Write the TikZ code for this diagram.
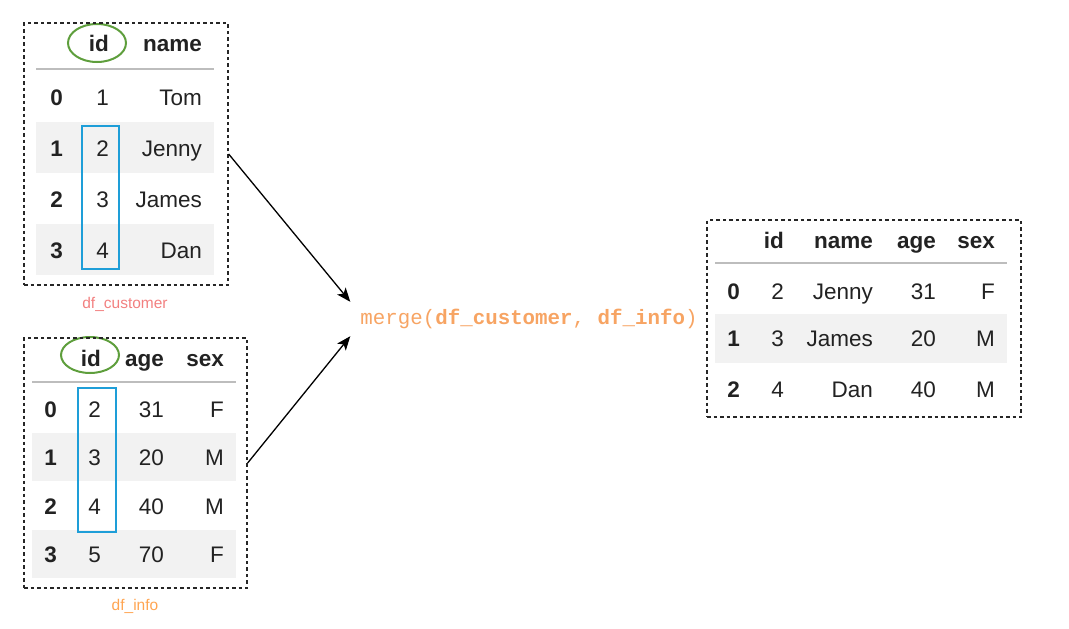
\documentclass[tikz,border=0pt]{standalone}
\usepackage{fontspec}
\setmainfont{Liberation Sans}
\setmonofont{Liberation Mono}
\usetikzlibrary{arrows.meta}
\definecolor{bandgray}{HTML}{F2F2F2}
\definecolor{rulegray}{HTML}{BDBDBD}
\definecolor{keyblue}{HTML}{1E9ED8}
\definecolor{ringgreen}{HTML}{5E9E3C}
\definecolor{custred}{HTML}{F28080}
\definecolor{infoorange}{HTML}{FFA552}
\definecolor{mergeorange}{HTML}{F7A463}
\definecolor{ink}{HTML}{222222}
\tikzset{
  dashbox/.style={draw=black!85, line width=1.3pt, dash pattern=on 3.5pt off 3pt, inner sep=0pt},
  cell/.style={anchor=east, inner sep=0pt, text height=16pt, text depth=0pt, text=ink, font=\fontsize{22.5}{26}\selectfont},
  idx/.style={cell, font=\fontsize{22.5}{26}\selectfont\bfseries},
  band/.style={fill=bandgray, draw=none},
  headrule/.style={draw=rulegray, line width=2pt},
  keybox/.style={draw=keyblue, line width=2pt},
  idring/.style={draw=ringgreen, line width=2pt},
  tag/.style={font=\fontsize{15.5}{18}\selectfont},
  joinarrow/.style={-{Stealth[length=14pt,width=11pt,inset=3.5pt]}, line width=1.3pt, black}
}
\begin{document}
\begin{tikzpicture}[x=1pt,y=-1pt]
  \useasboundingbox (0,0) rectangle (1069,629);

  % df_customer
  \fill[band] (36,122) rectangle (214,173);
  \fill[band] (36,224) rectangle (214,275);
  \draw[headrule] (36,69) -- (214,69);
  \node[idx] (t1h1) at (109,43) {id};
  \node[idx] (t1h2) at (202,43) {name};
  \node[idx] (t1r0a) at (63,97) {0};  \node[cell] (t1r0b) at (109,97) {1};  \node[cell] (t1r0c) at (202,97) {Tom};
  \node[idx] (t1r1a) at (63,148) {1}; \node[cell] (t1r1b) at (109,148) {2}; \node[cell] (t1r1c) at (202,148) {Jenny};
  \node[idx] (t1r2a) at (63,199) {2}; \node[cell] (t1r2b) at (109,199) {3}; \node[cell] (t1r2c) at (202,199) {James};
  \node[idx] (t1r3a) at (63,250) {3}; \node[cell] (t1r3b) at (109,250) {4}; \node[cell] (t1r3c) at (202,250) {Dan};
  \draw[keybox] (82,126) rectangle (119,269);
  \draw[idring] (97,43) ellipse [x radius=29, y radius=19];
  \node[dashbox, minimum width=204, minimum height=262] (customer) at (126,154) {};
  \node[tag, text=custred] (customerlbl) at (125,304) {df\_customer};

  % df_info
  \fill[band] (32,433) rectangle (236,481);
  \fill[band] (32,530) rectangle (236,578);
  \draw[headrule] (32,382) -- (236,382);
  \node[idx] (t2h1) at (101,358) {id};
  \node[idx] (t2h2) at (164,358) {age};
  \node[idx] (t2h3) at (224,358) {sex};
  \node[idx] (t2r0a) at (57,409) {0}; \node[cell] (t2r0b) at (101,409) {2}; \node[cell] (t2r0c) at (164,409) {31}; \node[cell] (t2r0d) at (224,409) {F};
  \node[idx] (t2r1a) at (57,457) {1}; \node[cell] (t2r1b) at (101,457) {3}; \node[cell] (t2r1c) at (164,457) {20}; \node[cell] (t2r1d) at (224,457) {M};
  \node[idx] (t2r2a) at (57,506) {2}; \node[cell] (t2r2b) at (101,506) {4}; \node[cell] (t2r2c) at (164,506) {40}; \node[cell] (t2r2d) at (224,506) {M};
  \node[idx] (t2r3a) at (57,554) {3}; \node[cell] (t2r3b) at (101,554) {5}; \node[cell] (t2r3c) at (164,554) {70}; \node[cell] (t2r3d) at (224,554) {F};
  \draw[keybox] (78,388) rectangle (116,532);
  \draw[idring] (90,355) ellipse [x radius=29, y radius=18];
  \node[dashbox, minimum width=223, minimum height=250] (info) at (135.5,463) {};
  \node[tag, text=infoorange] (infolbl) at (135,606) {df\_info};

  % merge
  \node[text=mergeorange, font=\fontsize{20.8}{24}\selectfont\ttfamily, inner xsep=10pt, inner ysep=0pt, minimum height=34pt] (merge) at (529,319)
    {merge(\textbf{df\_customer}, \textbf{df\_info})};
  \draw[joinarrow] (customer.east) -- (merge.north west);
  \draw[joinarrow] (info.east) -- (merge.south west);

  % result
  \fill[band] (715,314) rectangle (1007,363);
  \draw[headrule] (715,263) -- (1007,263);
  \node[idx] (t3h1) at (784,240) {id};
  \node[idx] (t3h2) at (873,240) {name};
  \node[idx] (t3h3) at (936,240) {age};
  \node[idx] (t3h4) at (995,240) {sex};
  \node[idx] (t3r0a) at (740,291) {0}; \node[cell] (t3r0b) at (784,291) {2}; \node[cell] (t3r0c) at (873,291) {Jenny}; \node[cell] (t3r0d) at (936,291) {31}; \node[cell] (t3r0e) at (995,291) {F};
  \node[idx] (t3r1a) at (740,338) {1}; \node[cell] (t3r1b) at (784,338) {3}; \node[cell] (t3r1c) at (873,338) {James}; \node[cell] (t3r1d) at (936,338) {20}; \node[cell] (t3r1e) at (995,338) {M};
  \node[idx] (t3r2a) at (740,389) {2}; \node[cell] (t3r2b) at (784,389) {4}; \node[cell] (t3r2c) at (873,389) {Dan}; \node[cell] (t3r2d) at (936,389) {40}; \node[cell] (t3r2e) at (995,389) {M};
  \node[dashbox, minimum width=314, minimum height=197] (result) at (864,318.5) {};
\end{tikzpicture}
\end{document}
